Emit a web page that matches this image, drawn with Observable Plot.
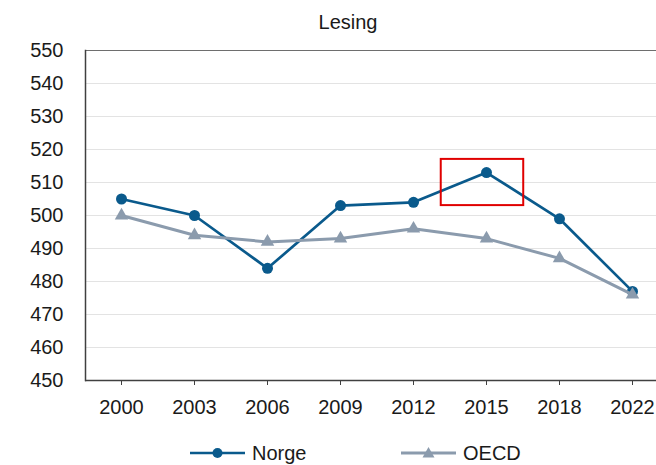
<!DOCTYPE html>
<html>
<head>
<meta charset="utf-8">
<script src="https://cdn.jsdelivr.net/npm/d3@7"></script>
<script src="https://cdn.jsdelivr.net/npm/@observablehq/plot@0.6"></script>
<style>
  html, body { margin: 0; padding: 0; background: #fff; }
  body { width: 656px; height: 465px; overflow: hidden; font-family: "Liberation Sans", Arial, sans-serif; color: #1a1a1a; }
  #title { width: 696px; height: 36px; line-height: 44px; text-align: center; font-size: 20px; white-space: nowrap; }
  #chart svg { display: block; }
  #legend { position: relative; height: 34px; font-size: 20px; }
  .item { position: absolute; top: 0; height: 34px; display: flex; align-items: center; }
  .item svg { display: block; }
  .item span { margin-left: 7px; }
</style>
</head>
<body>
<div id="title"></div>
<div id="chart"></div>
<div id="legend"></div>
<script>
const title = "Lesing";
const years = ["2000", "2003", "2006", "2009", "2012", "2015", "2018", "2022"];
const norge = [505, 500, 484, 503, 504, 513, 499, 477];
const oecd = [500, 494, 492, 493, 496, 493, 487, 476];
const yTicks = [450, 460, 470, 480, 490, 500, 510, 520, 530, 540, 550];
const seriesNames = ["Norge", "OECD"];
const seriesColors = ["#0a5a8c", "#8b9bad"];
// highlight box around 2015 (index units on x, score units on y)
const highlightX = [4.38, 5.51];
const highlightY = [503, 517];

document.getElementById("title").textContent = title;

const idx = years.map((_, i) => i);
const rowsN = idx.map(i => ({i, v: norge[i]}));
const rowsO = idx.map(i => ({i, v: oecd[i]}));
const box = [{x1: highlightX[0], x2: highlightX[1], y1: highlightY[0], y2: highlightY[1]}];

const chart = Plot.plot({
  width: 656,
  height: 400,
  marginLeft: 85,
  marginRight: 0,
  marginTop: 14,
  marginBottom: 56,
  x: {type: "linear", domain: [0, years.length - 1], range: [121, 632], axis: null},
  y: {domain: [450, 550], axis: null},
  style: {fontFamily: "'Liberation Sans', Arial, sans-serif", color: "#1a1a1a", background: "#fff"},
  marks: [
    Plot.gridY(yTicks.filter(t => t !== 450 && t !== 550), {stroke: "#e3e3e3", strokeOpacity: 1}),
    Plot.ruleY([550], {stroke: "#6e6e6e", strokeWidth: 1.2}),
    Plot.axisY({ticks: yTicks, tickSize: 0, tickPadding: 22, fontSize: 20}),
    Plot.axisX({ticks: idx, tickFormat: i => years[i], tickSize: 5, tickPadding: 14, fontSize: 20, stroke: "#404040"}),
    Plot.ruleY([450], {stroke: "#404040", strokeWidth: 1.5}),
    Plot.frame({anchor: "left", stroke: "#404040", strokeWidth: 1.5}),
    Plot.line(rowsN, {x: "i", y: "v", stroke: seriesColors[0], strokeWidth: 2.7}),
    Plot.dot(rowsN, {x: "i", y: "v", r: 5.5, fill: seriesColors[0], symbol: "circle"}),
    Plot.line(rowsO, {x: "i", y: "v", stroke: seriesColors[1], strokeWidth: 3}),
    Plot.dot(rowsO, {x: "i", y: "v", r: 5, fill: seriesColors[1], symbol: "triangle"}),
    Plot.rect(box, {x1: "x1", x2: "x2", y1: "y1", y2: "y2", fill: "none", stroke: "#e00000", strokeWidth: 2})
  ]
});
document.getElementById("chart").appendChild(chart);

// legend
const legend = document.getElementById("legend");
const legendPos = [190, 401];
seriesNames.forEach((name, k) => {
  const item = document.createElement("div");
  item.className = "item";
  item.style.left = legendPos[k] + "px";
  const c = seriesColors[k];
  const marker = k === 0
    ? `<circle cx="27.5" cy="8" r="5" fill="${c}"/>`
    : `<path d="M27.5,2 L33.5,12.5 L21.5,12.5 Z" fill="${c}"/>`;
  item.innerHTML = `<svg width="55" height="16"><line x1="0" x2="55" y1="8" y2="8" stroke="${c}" stroke-width="${k === 0 ? 2.7 : 3}"/>${marker}</svg><span>${name}</span>`;
  legend.appendChild(item);
});
</script>
</body>
</html>
